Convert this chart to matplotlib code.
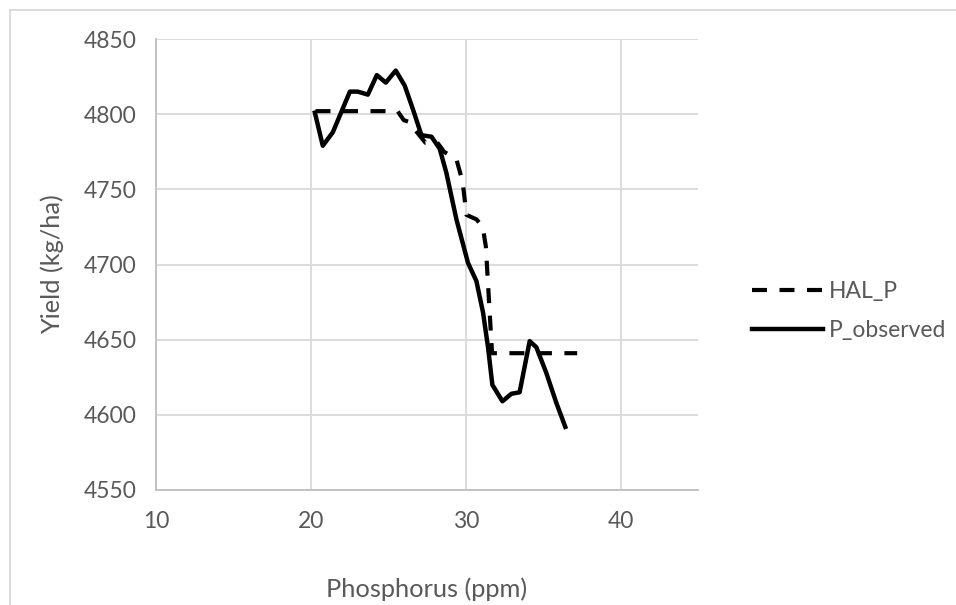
import matplotlib.pyplot as plt
from matplotlib.lines import Line2D

plt.rcParams['font.family'] = ['Lato', 'DejaVu Sans']

# observed yield vs phosphorus
p_obs = [20.26, 20.77, 21.42, 22.52, 23.03, 23.68, 24.26, 24.84, 25.48, 26.06,
         26.6, 27.14, 27.79, 28.32, 28.75, 29.4, 30.15, 30.69, 31.12, 31.44,
         31.72, 32.37, 32.95, 33.48, 34.13, 34.56, 35.2, 35.85, 36.43]
y_obs = [4801, 4779, 4788, 4815, 4815, 4813, 4826, 4821, 4829, 4819,
         4803, 4786, 4785, 4777, 4761, 4730, 4701, 4689, 4668, 4645,
         4620, 4609, 4614, 4615, 4649, 4645, 4628, 4608, 4592]

# HAL model
p_hal = [20.3, 25.6, 26.0, 26.3, 27.4, 28.1, 28.6, 29.4, 29.8, 30.05,
         30.7, 31.1, 31.3, 31.7, 37.2]
y_hal = [4802, 4802, 4796, 4795, 4781, 4782, 4775, 4770, 4755, 4733,
         4730, 4725, 4712, 4641, 4641]

gray = '#595959'

fig = plt.figure(figsize=(9.56, 6.05), dpi=100)
ax = fig.add_axes([156/956, 1-490/605, (698-156)/956, (490-39)/605])

ax.plot(p_hal, y_hal, color='black', lw=3.0, linestyle=(0, (3.6, 3.0)),
        label='HAL_P')
ax.plot(p_obs, y_obs, color='black', lw=3.2, solid_joinstyle='round',
        label='P_observed')

ax.set_xlim(10, 45)
ax.set_ylim(4550, 4850)
ax.set_xticks([10, 20, 30, 40])
ax.set_yticks(range(4550, 4851, 50))
ax.grid(True, color='#d9d9d9', lw=1.3)
ax.set_axisbelow(True)
for s in ['top', 'right']:
    ax.spines[s].set_visible(False)
ax.spines['left'].set_color('#bfbfbf')
ax.spines['bottom'].set_color('#bfbfbf')
ax.spines['left'].set_linewidth(1.3)
ax.spines['bottom'].set_linewidth(1.3)
ax.tick_params(length=0, labelsize=16.5, labelcolor=gray)
ax.tick_params(axis='y', pad=14)
ax.tick_params(axis='x', pad=15)

ax.set_xlabel('Phosphorus (ppm)', fontsize=18.3, color=gray)
ax.set_ylabel('Yield (kg/ha)', fontsize=18.3, color=gray)
ax.xaxis.set_label_coords(0.5, (490-589)/451, transform=ax.transAxes)
ax.yaxis.set_label_coords((52-156)/542, 0.5, transform=ax.transAxes)
ax.xaxis.label.set_va('center')
ax.yaxis.label.set_va('center')

leg = ax.legend(loc='center left', bbox_to_anchor=((752-156)/542, (490-311)/451),
                frameon=False, borderpad=0, borderaxespad=0,
                fontsize=16.5, handlelength=3.1, handletextpad=0.25,
                labelspacing=0.75)
for t in leg.get_texts():
    t.set_color(gray)

# outer chart border
fig.add_artist(Line2D([9.5/956, 1], [1-9.5/605, 1-9.5/605],
                      color='#d9d9d9', lw=1.3, transform=fig.transFigure))
fig.add_artist(Line2D([9.5/956, 9.5/956], [0, 1-9.5/605],
                      color='#d9d9d9', lw=1.3, transform=fig.transFigure))

fig.savefig('out.png', dpi=100)
